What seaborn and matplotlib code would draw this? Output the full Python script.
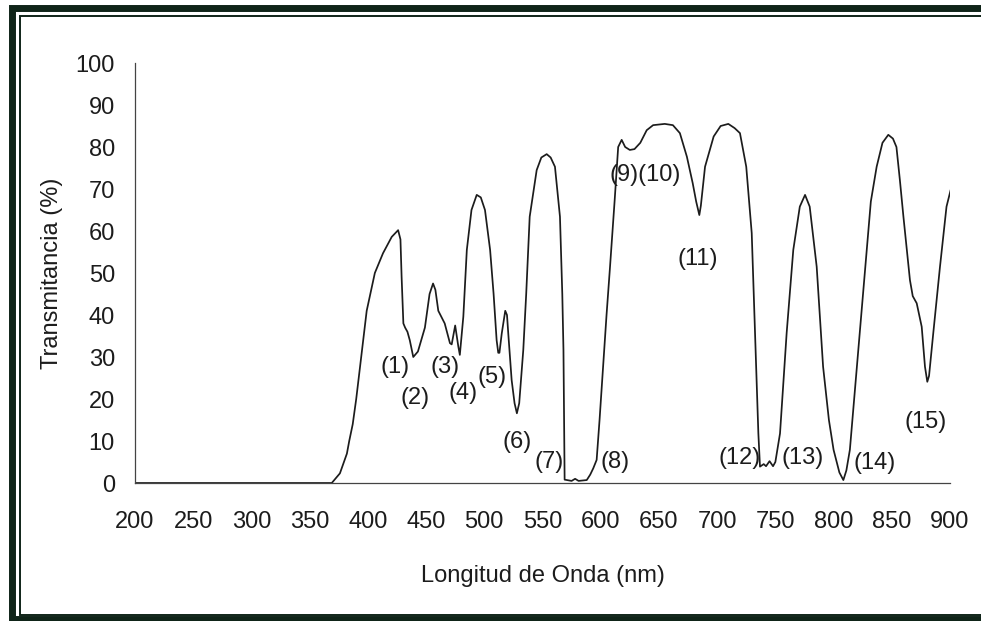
import matplotlib
matplotlib.use("Agg")
import matplotlib.pyplot as plt
import seaborn as sns
import pandas as pd
from matplotlib.lines import Line2D

# ---- data ----
wavelength = [200, 369, 376, 382, 384, 387, 390, 393, 399, 406, 413, 420.5, 426, 428, 429,
              430.5, 432, 434, 436, 439, 443, 449, 453, 456, 458, 460.5, 466, 470.5, 472,
              475, 477.7, 479, 482, 485, 489, 493.5, 497, 500.6, 505, 508, 510.6, 512, 513,
              515, 518, 519.5, 520.6, 523.5, 526, 528, 530, 533.5, 536, 539, 545, 549, 553.6,
              557, 560.7, 565, 567, 568, 569, 575, 578, 581, 588, 591, 593.6, 596.5, 599,
              602, 605, 608, 612, 615, 618, 621, 625, 629, 634, 639.5, 645, 655, 662, 668,
              674, 679, 682, 684.7, 686, 689.6, 697, 703, 709.6, 715, 719.6, 725, 729.7,
              732.5, 735.4, 736.8, 740, 742, 745, 748, 750, 754, 759.7, 765.4, 771, 775.5,
              779.5, 785.5, 791, 796, 800, 805, 808.4, 811, 814, 820, 828.4, 832, 837, 842,
              847, 851, 854, 857, 860, 865.6, 868, 871.4, 875.7, 878.5, 880.5, 882, 885.6,
              891.4, 897, 900.6]
transmittance = [0, 0, 2.3, 7, 10, 14, 20, 27, 41, 50, 54.7, 58.6, 60.2, 58, 49,
                 38, 37, 36, 34, 30, 31.3, 37, 45, 47.5, 46, 41, 38, 33.3, 33,
                 37.5, 32.5, 30.5, 39.6, 55.5, 65, 68.6, 68, 65, 55.5, 45, 34, 31, 31,
                 35.6, 41, 40, 35.6, 24.5, 19, 16.6, 19, 31.7, 45, 63.4, 74.5, 77.5, 78.3,
                 77.5, 75.3, 63.4, 45, 31.7, 0.8, 0.5, 1.0, 0.5, 0.7, 2, 3.5, 5.5, 15,
                 27.7, 40, 51.5, 67.4, 80, 81.7, 80, 79.3, 79.5, 81, 84, 85.2, 85.5, 85.2, 83.3,
                 77.7, 71.4, 67, 63.8, 66, 75.3, 82.5, 85, 85.5, 84.5, 83.3, 75.3, 59.5,
                 35.7, 11.8, 3.9, 4.5, 4, 5.2, 4, 5, 11.8, 35.7, 55.5, 65.8, 68.6,
                 65.8, 51.5, 27.7, 15, 7.9, 2.5, 0.7, 3, 7.9, 27.7, 55.5, 67, 75.3, 81,
                 82.9, 82, 80, 72, 63.4, 48.3, 44.5, 42.8, 37.2, 27.7, 24.1, 25.5, 35.6,
                 51.5, 65.8, 69.8]

band_labels = ["(1)", "(2)", "(3)", "(4)", "(5)", "(6)", "(7)", "(8)", "(9)(10)",
               "(11)", "(12)", "(13)", "(14)", "(15)"]
band_label_x = [423.3, 440.5, 466.3, 481.7, 506.6, 528.5, 555.6, 612.7, 638.5,
                683.1, 719.2, 773.3, 835.6, 879]
band_label_y = [27.6, 20.2, 27.6, 21.4, 25.2, 9.8, 5.0, 5.0, 73.3,
                53.3, 6.0, 6.0, 4.8, 14.5]

x_ticks = list(range(200, 901, 50))
y_ticks = list(range(0, 101, 10))

df = pd.DataFrame({"Longitud de Onda (nm)": wavelength,
                   "Transmitancia (%)": transmittance})

sns.set_style("white")
plt.rcParams["font.family"] = ["Liberation Sans", "DejaVu Sans"]
FS = 17
ink = "#1c1c1c"

fig = plt.figure(figsize=(9.81, 6.21), dpi=100)
ax = fig.add_axes([135 / 981, 1 - 483 / 621, 815 / 981, 420 / 621])

sns.lineplot(data=df, x="Longitud de Onda (nm)", y="Transmitancia (%)",
             ax=ax, color=ink, linewidth=1.25, sort=False, estimator=None)

ax.set_xlim(200, 900)
ax.set_ylim(0, 100)
ax.set_xticks(x_ticks)
ax.set_yticks(y_ticks)
ax.set_xticklabels([str(v) for v in x_ticks], fontsize=FS, color=ink)
ax.set_yticklabels([str(v) for v in y_ticks], fontsize=FS, color=ink)
ax.tick_params(axis="x", direction="out", length=4.5, width=0.8, color="#444444", pad=16)
ax.tick_params(axis="y", direction="out", length=4.5, width=0.8, color="#444444", pad=10)

for side in ["top", "right"]:
    ax.spines[side].set_visible(False)
for side in ["left", "bottom"]:
    ax.spines[side].set_color("#444444")
    ax.spines[side].set_linewidth(0.9)

ax.set_xlabel("Longitud de Onda (nm)", fontsize=FS, color=ink)
ax.set_ylabel("Transmitancia (%)", fontsize=FS, color=ink)
ax.xaxis.set_label_coords(0.5006, -0.195)
ax.yaxis.set_label_coords(-0.088, 0.50)

for lab, lx, ly in zip(band_labels, band_label_x, band_label_y):
    ax.text(lx, ly, lab, fontsize=FS, color=ink, ha="center", va="center")

# scanned page frame: thick outer line plus thin inner line
W, H = 981.0, 621.0
frame_col = "#0f2418"
fig.add_artist(Line2D([1010 / W, 11.5 / W, 11.5 / W, 1010 / W],
                      [1 - 8 / H, 1 - 8 / H, 1 - 619 / H, 1 - 619 / H],
                      transform=fig.transFigure, color=frame_col, linewidth=5.0,
                      solid_joinstyle="miter"))
fig.add_artist(Line2D([1010 / W, 20 / W, 20 / W, 1010 / W],
                      [1 - 16 / H, 1 - 16 / H, 1 - 614.5 / H, 1 - 614.5 / H],
                      transform=fig.transFigure, color=frame_col, linewidth=1.4,
                      solid_joinstyle="miter"))

fig.savefig("out.png", dpi=100, facecolor="white")
